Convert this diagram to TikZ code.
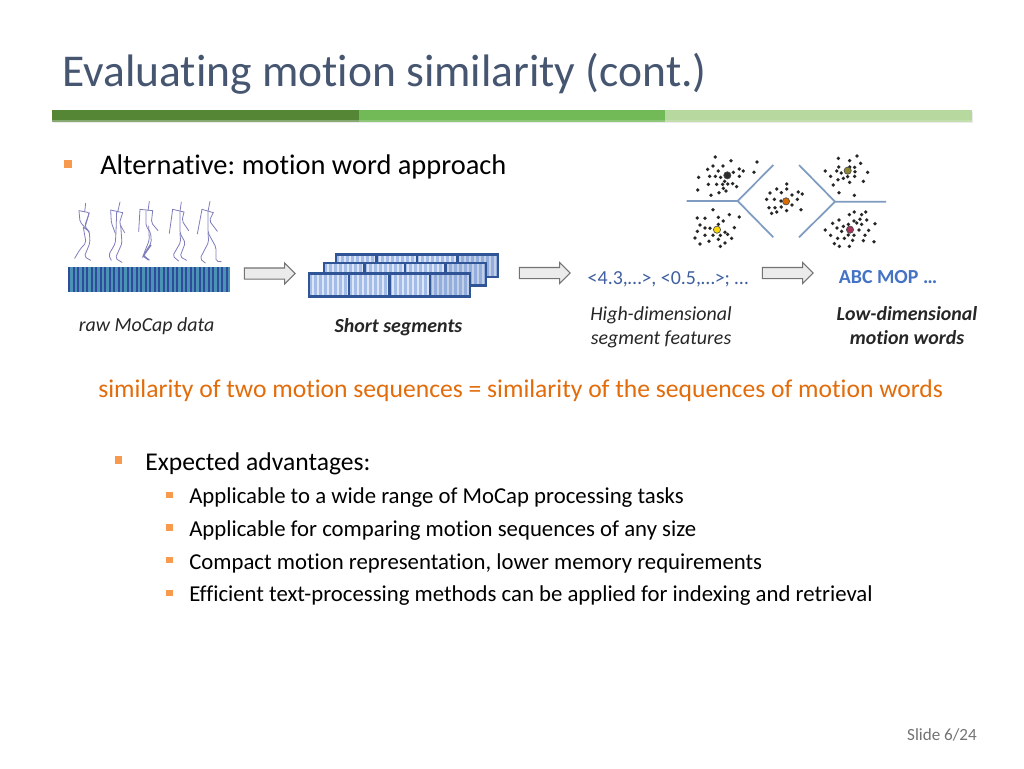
\documentclass[tikz,border=0pt]{standalone}
\usepackage{fontspec}
\setmainfont[Ligatures=NoCommon]{Carlito}
\usetikzlibrary{shapes.arrows}
\definecolor{titlecol}{HTML}{465671}
\definecolor{barA}{HTML}{558636}
\definecolor{barB}{HTML}{72B957}
\definecolor{barC}{HTML}{B7D99F}
\definecolor{bul}{HTML}{F79A4D}
\definecolor{orangetext}{HTML}{E36C0A}
\definecolor{bluetext}{HTML}{4472C4}
\definecolor{numtext}{HTML}{3F5F9F}
\definecolor{stripeA}{HTML}{2F4C9C}
\definecolor{stripeB}{HTML}{4A93B4}
\definecolor{cellline}{HTML}{2F5597}
\definecolor{cellA}{HTML}{A4BDE8}
\definecolor{cellB}{HTML}{DCE6F6}
\definecolor{voronoi}{HTML}{7F9CC0}
\definecolor{stick}{HTML}{7F7DBB}
\newcommand{\pxfont}[1]{\fontsize{#1}{#1}\selectfont}
\tikzset{
  x=0.75pt,y=-0.75pt,
  txt/.style={inner sep=0pt,anchor=base west,text=black},
  bulletbox/.style={fill=bul,draw=none,minimum size=6pt,inner sep=0pt},
  smallbullet/.style={fill=bul,draw=none,minimum size=4.8pt,inner sep=0pt},
  blockarrow/.style={single arrow,draw=black!55,fill=black!8,line width=.8pt,minimum height=38pt,single arrow head extend=3.75pt,single arrow tip angle=90,inner sep=0pt,anchor=center},
  caption/.style={inner sep=0pt,align=center,anchor=center,font=\pxfont{14.93}\itshape,text=black!85},
  bcaption/.style={caption,font=\pxfont{14.93}\itshape\bfseries},
  limb/.style={draw=stick,line width=.6pt,line join=round,line cap=round,rounded corners=1.5pt},
  dot/.style={fill=black!85,draw=none},
}
\newcommand{\segrow}[4]{% x0, y0, x1, y1
  \begin{scope}
    \fill[cellB] (#1,#2) rectangle (#3,#4);
    \pgfmathsetmacro{\segend}{#3-2}
    \pgfmathsetmacro{\segnext}{#1+5}
    \foreach \sx in {#1,\segnext,...,\segend}{
      \fill[cellA] (\sx,#2) rectangle +(3,#4-#2);
    }
    \pgfmathsetmacro{\cw}{(#3-#1)/4}
    \fill[cellline,opacity=.14] ({#1+3*\cw},#2) rectangle (#3,#4);
    \draw[cellline,line width=1.7pt] (#1,#2) rectangle (#3,#4);
    \foreach \ci in {1,2,3}{
      \draw[cellline,line width=1.7pt] ({#1+\ci*\cw},#2) -- ({#1+\ci*\cw},#4);
    }
  \end{scope}
}
\begin{document}
\begin{tikzpicture}
\useasboundingbox (0,0) rectangle (1024,768);
\fill[white] (0,0) rectangle (1024,768);
% title
\node[txt,text=titlecol,font=\pxfont{34.13}] (title) at (62,86) {Evaluating motion similarity (cont.)};
% header bar
\fill[black!8] (53,111.5) rectangle (973,122.5);
\fill[barA] (52,110) rectangle (359,121);
\fill[barB] (359,110) rectangle (665,121);
\fill[barC] (665,110) rectangle (972,121);
\fill[barA!70!white] (52,119.5) rectangle (359,121.5);
\fill[barB!80!white] (359,119.5) rectangle (665,121.5);
\fill[barC!85!white] (665,119.5) rectangle (972,121.5);
% bullet 1
\node[bulletbox] (b1) at (68,163.5) {};
\node[txt,font=\pxfont{21.33}] (alt) at (100,174) {Alternative:\kern-1.5pt{} motion word approach};
% stick figures
\begin{scope}[shift={(50,190)},x=0.25pt,y=-0.25pt]
  % figure 1
  \draw[limb] (107,40)--(104,66);
  \draw[limb] (87,62)--(118,68)--(106,108);
  \draw[limb] (87,62)--(90,96)--(116,124);
  \draw[limb] (118,68)--(104,108)--(118,126);
  \draw[limb] (100,112)--(118,124)--(120,158)--(103,200)--(122,211);
  \draw[limb] (100,112)--(108,158)--(90,178)--(74,205);
  % figure 2
  \draw[limb] (210,36)--(203,66);
  \draw[limb] (182,60)--(218,68);
  \draw[limb] (182,60)--(184,98)--(196,130);
  \draw[limb] (218,68)--(208,100)--(224,128);
  \draw[limb] (200,66)--(198,125)--(196,160)--(176,195)--(184,211);
  \draw[limb] (212,105)--(216,160)--(196,205)--(216,217);
  % figure 3
  \draw[limb] (298,34)--(294,62);
  \draw[limb] (270,58)--(308,62);
  \draw[limb] (270,58)--(266,125);
  \draw[limb] (308,62)--(304,98)--(324,122);
  \draw[limb] (288,62)--(288,108)--(302,128)--(304,158)--(280,196)--(298,210);
  \draw[limb] (296,108)--(298,150)--(282,190)--(278,203);
  \draw[stick,line width=1pt] (303,165)--(280,198)--(296,210);
  % figure 4
  \draw[limb] (394,36)--(390,64);
  \draw[limb] (368,58)--(402,66);
  \draw[limb] (368,58)--(358,130);
  \draw[limb] (402,66)--(396,92)--(416,122);
  \draw[limb] (390,66)--(390,130)--(406,158)--(390,200)--(410,211);
  \draw[limb] (390,130)--(392,156)--(368,198)--(386,213);
  % figure 5
  \draw[limb] (480,34)--(474,64);
  \draw[limb] (456,58)--(490,68);
  \draw[limb] (456,58)--(442,132);
  \draw[limb] (490,68)--(478,92)--(502,124);
  \draw[limb] (474,66)--(474,128)--(498,172)--(498,214)--(514,215);
  \draw[limb] (474,128)--(476,156)--(450,206)--(466,219);
\end{scope}
% barcode
\fill[stripeB] (68,267) rectangle (230,292);
\foreach \bx in {68,72.5,...,226}{
  \fill[stripeA] (\bx,267) rectangle +(2.4,25);
}
% arrows
\node[blockarrow] (a1) at (267,273.5) {\rule{0pt}{7.5pt}};
\node[blockarrow] (a2) at (542,273) {\rule{0pt}{7.5pt}};
\node[blockarrow] (a3) at (785,273) {\rule{0pt}{7.5pt}};
% segments
\segrow{336}{254.5}{498}{277}
\segrow{324}{263}{486}{285.5}
\segrow{309}{273.5}{470}{296.5}
% clusters
\begin{scope}[shift={(680,145)},x=0.25pt,y=-0.25pt]
  \draw[voronoi,line width=1.3pt] (20,168)--(173,168)--(280,60);
  \draw[voronoi,line width=1.3pt] (173,168)--(280,277);
  \draw[voronoi,line width=1.3pt] (357,60)--(465,170)--(618,170);
  \draw[voronoi,line width=1.3pt] (465,170)--(357,277);
  \foreach \dx/\dy in {106/36,153/47,231/51,99/63,129/63,83/73,115/78,178/72,190/78,222/82,56/97,89/94,106/94,122/97,160/82,178/94,134/109,85/118,110/118,128/118,143/117,158/116,170/125,53/135,130/130,117/143,93/151,138/138,
   475/40,531/33,509/47,542/55,476/66,509/66,524/67,436/78,470/78,484/84,525/80,563/82,452/94,490/100,503/95,524/94,474/104,509/112,550/109,460/120,477/143,523/151,
   320/117,290/132,320/132,270/144,304/143,355/141,367/147,336/150,260/163,283/163,303/168,352/163,336/180,267/188,285/188,304/186,363/194,320/197,290/201,275/205,
   99/194,148/209,178/216,52/219,75/220,115/217,130/228,60/240,75/249,90/250,115/238,163/248,52/259,135/262,75/271,99/271,121/271,143/268,45/279,115/283,155/280,87/289,135/294,60/297,121/304,
   523/201,508/209,545/209,557/201,540/223,522/228,477/225,560/225,458/235,505/238,530/234,585/236,471/249,490/244,545/238,485/259,537/255,436/255,505/270,522/271,452/271,473/280,555/271,493/280,518/286,550/287,582/290,463/296,478/304,508/304,566/256}{
    \fill[dot] (\dx,\dy) circle (1.4pt);
  }
  \fill[black!65!gray,draw=black!70,line width=.5pt] (142,91) circle (2.7pt);
  \fill[olive!70!gray,draw=black!70,line width=.5pt] (503,77) circle (2.7pt);
  \fill[orange!85!black,draw=black!70,line width=.5pt] (318,169) circle (2.7pt);
  \fill[yellow!75!orange,draw=black!70,line width=.5pt] (111,254) circle (2.7pt);
  \fill[purple!60!gray,draw=black!70,line width=.5pt] (510,254) circle (2.7pt);
\end{scope}
% labels
\node[caption] (raw) at (146.5,326) {raw MoCap data};
\node[bcaption] (short) at (398.5,327) {Short segments};
\node[inner sep=0pt,anchor=base,font=\pxfont{14.93},text=numtext] (nums) at (668,284.5) {<4.3,…>, <0.5,…>; …};
\node[inner sep=0pt,anchor=base,font=\pxfont{14.93}\bfseries,text=bluetext] (abc) at (888,283) {ABC MOP …};
\node[caption] (high) at (661,327) {High-dimensional\\[3pt]segment features};
\node[bcaption] (low) at (907,326) {Low-dimensional\\[3pt]motion words};
\node[txt,font=\pxfont{19.2},text=orangetext] (sim) at (98,397) {similarity of two motion sequences = similarity of the sequences of motion words};
% list
\node[bulletbox,minimum size=5.5pt] (b2) at (118.5,460) {};
\node[txt,font=\pxfont{19.2}] (adv) at (145,470) {Expected advantages:};
\node[smallbullet] (c1) at (169.5,495) {};
\node[txt,font=\pxfont{17.07}] (l1) at (189,503.5) {Applicable to a wide range of MoCap processing tasks};
\node[smallbullet] (c2) at (169.5,527.5) {};
\node[txt,font=\pxfont{17.07}] (l2) at (189,536) {Applicable for comparing motion sequences of any size};
\node[smallbullet] (c3) at (169.5,560) {};
\node[txt,font=\pxfont{17.07}] (l3) at (189,569) {Compact motion representation, lower memory requirements};
\node[smallbullet] (c4) at (169.5,593) {};
\node[txt,font=\pxfont{17.07}] (l4) at (189,601.5) {Efficient text-processing methods can be applied for indexing and retrieval};
\node[inner sep=0pt,anchor=base east,font=\pxfont{12.8},text=black!55] (slide) at (977,740) {Slide 6/24};
\end{tikzpicture}
\end{document}
